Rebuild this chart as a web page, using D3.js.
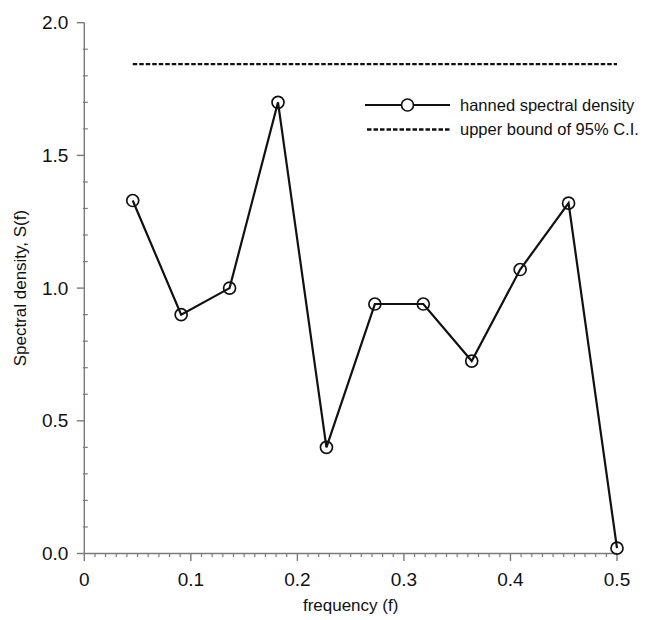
<!DOCTYPE html>
<html>
<head>
<meta charset="utf-8">
<script src="https://cdn.jsdelivr.net/npm/d3@7"></script>
<style>
  html, body { margin: 0; padding: 0; background: #fff; }
  svg { display: block; font-family: "Liberation Sans", Arial, sans-serif; }
</style>
</head>
<body>
<div id="chart"></div>
<script>
// Data
const frequencies = [1/22, 2/22, 3/22, 4/22, 5/22, 6/22, 7/22, 8/22, 9/22, 10/22, 11/22];
const spectralDensity = [1.33, 0.90, 1.00, 1.70, 0.40, 0.94, 0.94, 0.725, 1.07, 1.32, 0.02];
const upperBound = 1.844;
const xTicks = [0, 0.1, 0.2, 0.3, 0.4, 0.5];
const xTickLabels = ["0", "0.1", "0.2", "0.3", "0.4", "0.5"];
const yTicks = [0, 0.5, 1.0, 1.5, 2.0];
const yTickLabels = ["0.0", "0.5", "1.0", "1.5", "2.0"];
const legendLabels = ["hanned spectral density", "upper bound of 95% C.I."];

const W = 648, H = 620;
const svg = d3.select("#chart").append("svg").attr("width", W).attr("height", H);

const x = d3.scaleLinear().domain([0, 0.5]).range([84.3, 617]);
const y = d3.scaleLinear().domain([0, 2]).range([553.5, 22.7]);

const axisColor = "#7a7a7a";

// X axis
const gx = svg.append("g").attr("transform", `translate(0,${y(0)})`);
gx.append("line").attr("x1", x(0)).attr("x2", x(0.5)).attr("y1", 0).attr("y2", 0)
  .attr("stroke", axisColor).attr("stroke-width", 1.4);
const xMinor = d3.range(0, 51).map(i => i / 100).filter(v => Math.round(v * 100) % 10 !== 0);
gx.selectAll(".xminor").data(xMinor).enter().append("line")
  .attr("x1", d => x(d)).attr("x2", d => x(d)).attr("y1", 0).attr("y2", 3.5)
  .attr("stroke", axisColor).attr("stroke-width", 1.2);
gx.selectAll(".xmajor").data(xTicks).enter().append("line")
  .attr("x1", d => x(d)).attr("x2", d => x(d)).attr("y1", 0).attr("y2", 7.5)
  .attr("stroke", axisColor).attr("stroke-width", 1.4);
gx.selectAll(".xlab").data(xTicks).enter().append("text")
  .attr("x", d => x(d)).attr("y", 32)
  .attr("text-anchor", "middle").attr("font-size", 19).attr("fill", "#111")
  .text((d, i) => xTickLabels[i]);

// Y axis
const gy = svg.append("g").attr("transform", `translate(${x(0)},0)`);
gy.append("line").attr("x1", 0).attr("x2", 0).attr("y1", y(0)).attr("y2", y(2))
  .attr("stroke", axisColor).attr("stroke-width", 1.4);
const yMinor = d3.range(0, 21).map(i => i / 10).filter(v => Math.round(v * 10) % 5 !== 0);
gy.selectAll(".yminor").data(yMinor).enter().append("line")
  .attr("x1", -1.5).attr("x2", 3.5).attr("y1", d => y(d)).attr("y2", d => y(d))
  .attr("stroke", axisColor).attr("stroke-width", 1.2);
gy.selectAll(".ymajor").data(yTicks).enter().append("line")
  .attr("x1", -7.5).attr("x2", 0).attr("y1", d => y(d)).attr("y2", d => y(d))
  .attr("stroke", axisColor).attr("stroke-width", 1.4);
gy.selectAll(".ylab").data(yTicks).enter().append("text")
  .attr("x", -16).attr("y", d => y(d)).attr("dy", "0.35em")
  .attr("text-anchor", "end").attr("font-size", 19).attr("fill", "#111")
  .text((d, i) => yTickLabels[i]);

// Axis titles
svg.append("text").attr("x", (x(0) + x(0.5)) / 2).attr("y", 611)
  .attr("text-anchor", "middle").attr("font-size", 17).attr("fill", "#111")
  .text("frequency (f)");
svg.append("text").attr("transform", `translate(26,${(y(0) + y(2)) / 2}) rotate(-90)`)
  .attr("text-anchor", "middle").attr("font-size", 17).attr("fill", "#111")
  .text("Spectral density, S(f)");

// Upper bound dashed line
svg.append("line")
  .attr("x1", x(frequencies[0])).attr("x2", x(frequencies[frequencies.length - 1]))
  .attr("y1", y(upperBound)).attr("y2", y(upperBound))
  .attr("stroke", "#111").attr("stroke-width", 2.3).attr("stroke-dasharray", "4.5,2");

// Spectral density line
const pts = frequencies.map((f, i) => [f, spectralDensity[i]]);
svg.append("path").datum(pts)
  .attr("d", d3.line().x(d => x(d[0])).y(d => y(d[1])))
  .attr("fill", "none").attr("stroke", "#111").attr("stroke-width", 2.2);
svg.selectAll(".pt").data(pts).enter().append("circle")
  .attr("cx", d => x(d[0])).attr("cy", d => y(d[1])).attr("r", 6)
  .attr("fill", "none").attr("stroke", "#111").attr("stroke-width", 1.7);

// Legend
const lg = svg.append("g");
const lx1 = 365, lx2 = 450, ly = [105, 129.5];
lg.append("line").attr("x1", lx1).attr("x2", lx2).attr("y1", ly[0]).attr("y2", ly[0])
  .attr("stroke", "#111").attr("stroke-width", 2.2);
lg.append("circle").attr("cx", (lx1 + lx2) / 2).attr("cy", ly[0]).attr("r", 6)
  .attr("fill", "#fff").attr("stroke", "#111").attr("stroke-width", 1.7);
lg.append("line").attr("x1", lx1 + 2).attr("x2", lx2).attr("y1", ly[1]).attr("y2", ly[1])
  .attr("stroke", "#111").attr("stroke-width", 2.3).attr("stroke-dasharray", "4.5,2");
lg.selectAll(".lt").data(legendLabels).enter().append("text")
  .attr("x", 460).attr("y", (d, i) => ly[i]).attr("dy", "0.35em")
  .attr("font-size", 16.5).attr("fill", "#111")
  .text(d => d);
</script>
</body>
</html>
